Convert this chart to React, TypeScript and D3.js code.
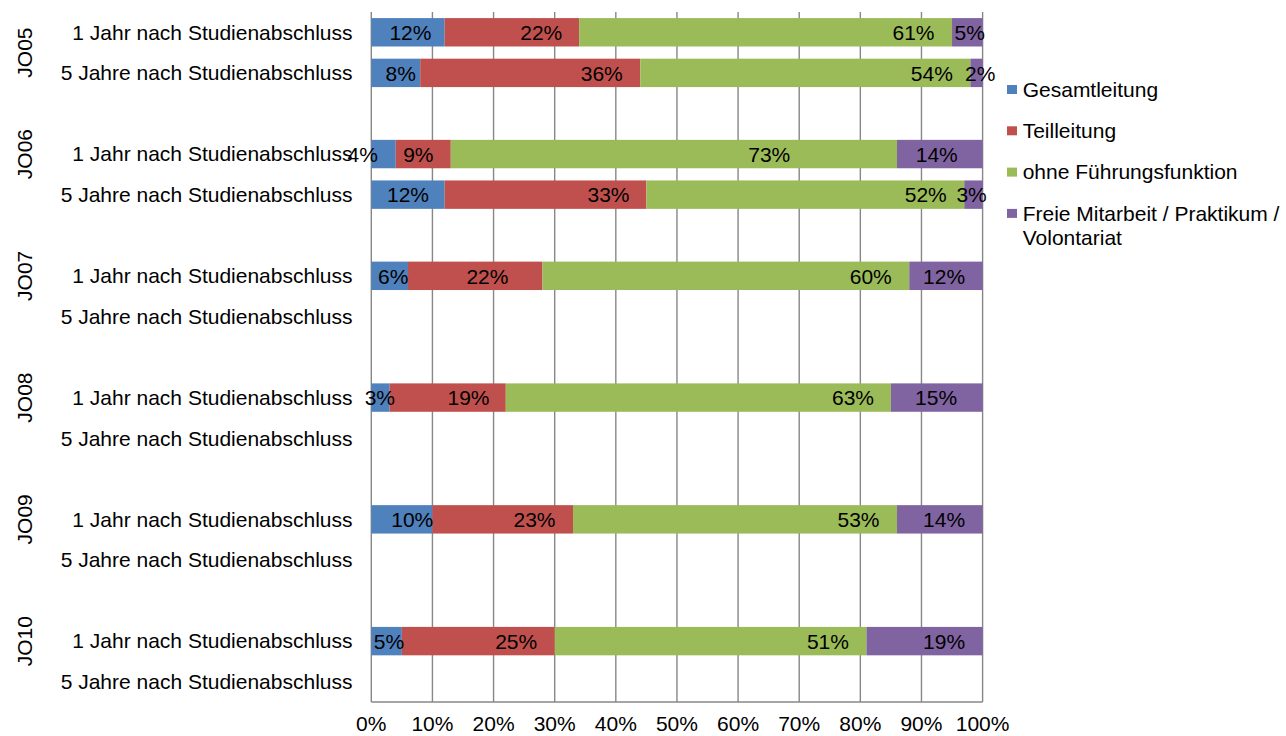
import React from "react";
import * as d3 from "d3";

const groups = ["JO05", "JO06", "JO07", "JO08", "JO09", "JO10"];
const subLabels = ["1 Jahr nach Studienabschluss", "5 Jahre nach Studienabschluss"];
const seriesNames = ["Gesamtleitung", "Teilleitung", "ohne Führungsfunktion", "Freie Mitarbeit / Praktikum / Volontariat"];
const seriesColors = ["#4F81BD", "#C0504D", "#9BBB59", "#8064A2"];

// one entry per row (group x sub): JO05 1J, JO05 5J, JO06 1J, JO06 5J, ...
const gesamt = [12, 8, 4, 12, 6, null, 3, null, 10, null, 5, null];
const teil = [22, 36, 9, 33, 22, null, 19, null, 23, null, 25, null];
const ohne = [61, 54, 73, 52, 60, null, 63, null, 53, null, 51, null];
const freie = [5, 2, 14, 3, 12, null, 15, null, 14, null, 19, null];

// label anchor (in % of axis) for each value label
const labGesamt = [6.4, 4.8, -1.4, 6.0, 3.6, null, 1.4, null, 6.7, null, 2.9, null];
const labTeil = [27.8, 37.7, 7.7, 38.8, 19.0, null, 15.9, null, 26.7, null, 23.7, null];
const labOhne = [88.7, 91.7, 65.1, 90.7, 81.7, null, 78.8, null, 79.7, null, 74.7, null];
const labFreie = [97.9, 99.6, 92.5, 98.2, 93.7, null, 92.4, null, 93.7, null, 93.7, null];

const xTicks = [0, 10, 20, 30, 40, 50, 60, 70, 80, 90, 100];

const FONT = "'Liberation Sans', Arial, sans-serif";
const FS = 21;

export default function App() {
  const W = 1286, H = 736;
  const left = 371.3, right = 982.6, top = 12, bottom = 702;

  type Slot = { key: string; group: number; sub: number; row: number };
  const slots: Slot[] = [];
  let row = 0;
  groups.forEach((g, gi) => {
    if (gi > 0) slots.push({ key: `${g}-blank`, group: gi, sub: -1, row: -1 });
    subLabels.forEach((s, si) => {
      slots.push({ key: `${g}-${si}`, group: gi, sub: si, row: row++ });
    });
  });

  const x = d3.scaleLinear().domain([0, 100]).range([left, right]);
  const y = d3.scaleBand<string>().domain(slots.map((s) => s.key)).range([top, bottom]).paddingInner(0.3).paddingOuter(0.15);
  const bw = y.bandwidth();

  const values = [gesamt, teil, ohne, freie];
  const labs = [labGesamt, labTeil, labOhne, labFreie];

  const realSlots = slots.filter((s) => s.row >= 0);
  const stackRows = realSlots.map((s) => {
    let acc = 0;
    return values.map((arr, k) => {
      const v = arr[s.row];
      const x0 = acc;
      if (v != null) acc += v;
      return { k, v, x0, x1: acc, lab: labs[k][s.row] };
    });
  });

  const groupCenter = (gi: number) => {
    const gs = slots.filter((s) => s.group === gi);
    const a = (y(gs[0].key) as number) + bw / 2;
    const b = (y(gs[gs.length - 1].key) as number) + bw / 2;
    return (a + b) / 2;
  };

  const gridColor = "#878787";
  const legendX = 1007;
  const legendY0 = 89.5;
  const legendStep = 41.3;

  return (
    <svg width={W} height={H} style={{ position: "absolute", left: 0, top: 0, background: "#fff" }} fontFamily={FONT} fontSize={FS}>
      <rect x={0} y={0} width={W} height={H} fill="#fff" />
      {xTicks.map((t) => (
        <line key={t} x1={x(t)} x2={x(t)} y1={top} y2={bottom} stroke={gridColor} strokeWidth={1.4} />
      ))}
      <line x1={left} x2={right} y1={bottom} y2={bottom} stroke={gridColor} strokeWidth={1.4} />
      {xTicks.map((t) => (
        <text key={t} x={x(t)} y={731} textAnchor="middle" fill="#000">{t}%</text>
      ))}
      {realSlots.map((s, i) => {
        const yy = y(s.key) as number;
        return (
          <g key={s.key}>
            {stackRows[i].map((seg) =>
              seg.v == null ? null : (
                <rect key={seg.k} x={x(seg.x0)} y={yy} width={x(seg.x1) - x(seg.x0)} height={bw} fill={seriesColors[seg.k]} />
              )
            )}
          </g>
        );
      })}
      {realSlots.map((s, i) => {
        const yy = (y(s.key) as number) + bw / 2;
        return (
          <g key={s.key + "-lab"}>
            {stackRows[i].map((seg) =>
              seg.v == null || seg.lab == null ? null : (
                <text key={seg.k} x={x(seg.lab)} y={yy} dy="0.37em" textAnchor="middle" fill="#000">{seg.v}%</text>
              )
            )}
          </g>
        );
      })}
      {slots.map((s) =>
        s.sub < 0 ? null : (
          <text key={s.key + "-cat"} x={352.5} y={(y(s.key) as number) + bw / 2} dy="0.35em" textAnchor="end" fill="#000">
            {subLabels[s.sub]}
          </text>
        )
      )}
      {groups.map((g, gi) => (
        <text key={g} transform={`translate(31.5, ${groupCenter(gi)}) rotate(-90)`} textAnchor="middle" fill="#000">{g}</text>
      ))}
      {seriesNames.map((n, i) => {
        const cy = legendY0 + i * legendStep;
        const lines = i === 3 ? ["Freie Mitarbeit / Praktikum /", "Volontariat"] : [n];
        return (
          <g key={n}>
            <rect x={legendX} y={cy - 4.5} width={10} height={9} fill={seriesColors[i]} />
            <text x={1022.7} y={cy} fill="#000">
              {lines.map((l, li) => (
                <tspan key={li} x={1022.7} dy={li === 0 ? "0.35em" : 24}>{l}</tspan>
              ))}
            </text>
          </g>
        );
      })}
    </svg>
  );
}
